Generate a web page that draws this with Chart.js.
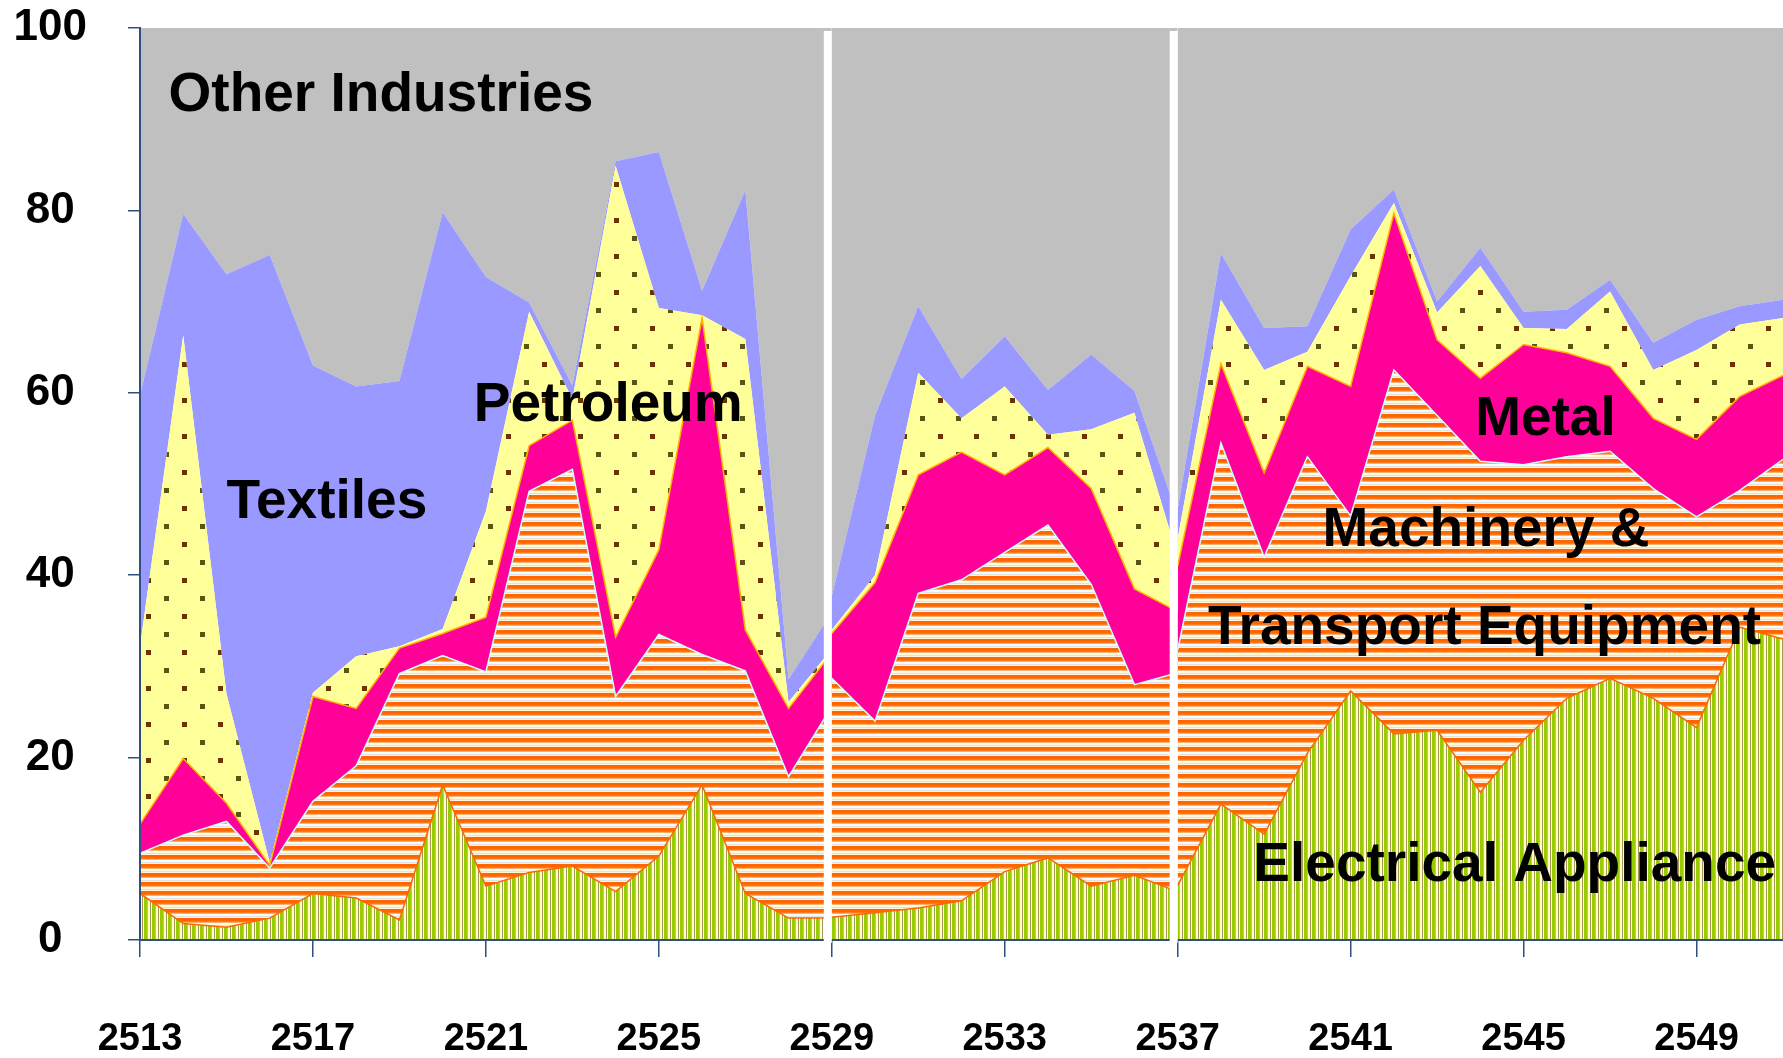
<!DOCTYPE html>
<html>
<head>
<meta charset="utf-8">
<script src="https://cdn.jsdelivr.net/npm/chart.js@4.4.1/dist/chart.umd.min.js"></script>
<style>
  html, body { margin: 0; padding: 0; background: #ffffff; }
  canvas { display: block; }
</style>
</head>
<body>
<canvas id="shareChart" width="1783" height="1058"></canvas>
<script>
// three separately compiled series, joined at 2529 and 2537
const seg1Years = [2513, 2514, 2515, 2516, 2517, 2518, 2519, 2520, 2521, 2522, 2523, 2524, 2525, 2526, 2527, 2528, 2529];
const seg2Years = [2529, 2530, 2531, 2532, 2533, 2534, 2535, 2536, 2537];
const seg3Years = [2537, 2538, 2539, 2540, 2541, 2542, 2543, 2544, 2545, 2546, 2547, 2548, 2549, 2550, 2551];

const tickYears = [2513, 2517, 2521, 2525, 2529, 2533, 2537, 2541, 2545, 2549];
const breakYears = [2529, 2537];

// share of manufacturing (%), bottom to top
const elec1 = [5.1, 1.8, 1.4, 2.4, 5.1, 4.6, 2.2, 17.0, 5.9, 7.4, 8.1, 5.3, 9.2, 17.0, 5.1, 2.4, 2.4];
const mach1 = [4.4, 9.7, 11.6, 5.5, 10.1, 14.5, 27.0, 14.2, 23.5, 41.8, 43.5, 21.4, 24.3, 14.3, 24.4, 15.5, 23.2];
const metal1 = [3.2, 8.4, 2.0, 0.3, 11.5, 6.3, 2.8, 2.4, 6.0, 5.0, 5.4, 6.5, 9.3, 36.9, 4.5, 7.5, 5.9];
const petro1 = [19.5, 46.4, 12.0, 0.3, 0.4, 5.7, 0.2, 0.5, 11.6, 14.7, 2.3, 51.7, 26.5, 0.3, 31.9, 0.7, 0.4];
const textile1 = [27.5, 13.3, 46.0, 66.6, 35.9, 29.6, 29.1, 45.7, 25.7, 1.0, 1.5, 0.5, 17.1, 2.7, 16.3, 2.5, 4.0];
const other1 = [40.3, 20.4, 27.0, 24.9, 37.0, 39.3, 38.7, 20.2, 27.3, 30.1, 39.2, 14.6, 13.6, 28.8, 17.8, 71.4, 64.1];

const elec2 = [2.5, 3.0, 3.5, 4.3, 7.5, 9.0, 5.9, 7.1, 5.3];
const mach2 = [26.2, 21.0, 34.5, 35.2, 35.0, 36.5, 33.1, 20.9, 24.0];
const metal2 = [4.9, 15.2, 13.0, 14.0, 8.5, 8.5, 10.5, 10.5, 6.7];
const petro2 = [0.4, 0.8, 11.2, 3.7, 9.7, 1.4, 6.5, 19.3, 6.0];
const textile2 = [3.7, 17.5, 7.3, 4.3, 5.5, 4.9, 8.2, 2.4, 4.5];
const other2 = [62.3, 42.5, 30.5, 38.5, 33.8, 39.7, 35.8, 39.8, 53.5];

const elec3 = [6.0, 14.9, 11.6, 20.5, 27.3, 22.6, 23.0, 16.2, 21.9, 26.5, 28.7, 26.5, 23.3, 34.3, 33.0];
const mach3 = [25.8, 39.6, 30.4, 32.5, 19.2, 39.9, 34.5, 36.3, 30.2, 26.5, 24.9, 23.0, 23.1, 15.0, 19.7];
const metal3 = [9.2, 8.7, 9.2, 9.9, 14.2, 17.2, 8.3, 9.1, 13.2, 11.4, 9.3, 7.7, 8.5, 10.3, 9.2];
const petro3 = [3.0, 7.0, 11.3, 1.6, 12.1, 1.1, 3.0, 12.3, 1.8, 2.6, 8.2, 5.3, 9.8, 7.9, 6.3];
const textile3 = [3.2, 5.1, 4.6, 2.8, 5.1, 1.5, 1.2, 2.0, 1.8, 2.1, 1.3, 3.0, 3.3, 2.0, 2.0];
const other3 = [52.8, 24.7, 32.9, 32.7, 22.1, 17.7, 30.0, 24.1, 31.1, 30.9, 27.6, 34.5, 32.0, 30.5, 29.8];

const FONT = "'Liberation Sans', Arial, sans-serif";

function makePattern(w, h, paint) {
  const c = document.createElement("canvas");
  c.width = w;
  c.height = h;
  paint(c.getContext("2d"));
  return c.getContext("2d").createPattern(c, "repeat");
}

// horizontal orange stripes
const machFill = makePattern(4, 9, function (g) {
  const rows = ["#FF6600", "#FF6600", "#FF6600", "#FF7A1A", "#FFB070", "#FFFFFF", "#FFFBE0", "#DDE3E6", "#FFF3E0"];
  rows.forEach(function (col, i) { g.fillStyle = col; g.fillRect(0, i, 4, 1); });
});

// vertical green stripes
const elecFill = makePattern(8, 4, function (g) {
  const cols = ["#99CC00", "#99CC00", "#99CC00", "#B8D838", "#FFFFCC", "#FFFFCC", "#A8955A", "#FFFFDD"];
  cols.forEach(function (col, i) { g.fillStyle = col; g.fillRect(i, 0, 1, 4); });
});

// pale yellow with brown dots
const petroFill = makePattern(36, 36, function (g) {
  g.fillStyle = "#FFFF99";
  g.fillRect(0, 0, 36, 36);
  g.fillStyle = "#6B3300";
  g.fillRect(2, 2, 5, 5);
  g.fillStyle = "#5A5510";
  g.fillRect(20, 20, 5, 5);
});

const series = [
  { name: "Electrical Appliance", parts: [elec1, elec2, elec3], bg: elecFill, line: "#FF6600", width: 1.5 },
  { name: "Machinery & Transport Equipment", parts: [mach1, mach2, mach3], bg: machFill, line: "#CCFFFF", width: 1.5 },
  { name: "Metal", parts: [metal1, metal2, metal3], bg: "#FF0099", line: "#FFB300", width: 1.5 },
  { name: "Petroleum", parts: [petro1, petro2, petro3], bg: petroFill, line: "#FFFF99", width: 0 },
  { name: "Textiles", parts: [textile1, textile2, textile3], bg: "#9999FF", line: "#9999FF", width: 0 },
  { name: "Other Industries", parts: [other1, other2, other3], bg: "#C0C0C0", line: "#C0C0C0", width: 0 },
];
const segments = [seg1Years, seg2Years, seg3Years];

const datasets = [];
segments.forEach(function (years, s) {
  series.forEach(function (ser) {
    datasets.push({
      label: ser.name,
      data: years.map(function (yr, i) { return { x: yr, y: ser.parts[s][i] }; }),
      stack: "seg" + s,
      fill: "stack",
      backgroundColor: ser.bg,
      borderColor: ser.line,
      borderWidth: ser.width,
      pointRadius: 0,
      tension: 0,
    });
  });
});

// text inside the areas, anchored in data units (year, %)
const areaLabels = [
  { text: "Other Industries", x: 2513.66, y: 90.9 },
  { text: "Textiles", x: 2515.0, y: 46.3 },
  { text: "Petroleum", x: 2520.72, y: 56.9 },
  { text: "Metal", x: 2543.88, y: 55.4 },
  { text: "Machinery &", x: 2540.35, y: 43.2 },
  { text: "Transport Equipment", x: 2537.7, y: 32.5 },
  { text: "Electrical Appliance", x: 2538.75, y: 6.45 },
];

const overlay = {
  id: "overlay",
  afterDraw: function (chart) {
    const ctx = chart.ctx;
    const area = chart.chartArea;
    const xs = chart.scales.x;
    const ys = chart.scales.y;
    ctx.save();
    // white gaps where the series breaks
    ctx.fillStyle = "#FFFFFF";
    breakYears.forEach(function (yr) {
      const px = xs.getPixelForValue(yr);
      ctx.fillRect(px - 8, area.top + 3, 8, area.bottom - area.top);
    });
    ctx.fillStyle = "#000000";
    ctx.font = "bold 55px " + FONT;
    ctx.textBaseline = "alphabetic";
    ctx.textAlign = "left";
    areaLabels.forEach(function (l) {
      ctx.fillText(l.text, xs.getPixelForValue(l.x), ys.getPixelForValue(l.y));
    });
    ctx.restore();
  },
};

const axisBlue = "#2F4F7F";

new Chart(document.getElementById("shareChart"), {
  type: "line",
  data: { datasets: datasets },
  plugins: [overlay],
  options: {
    responsive: false,
    animation: false,
    devicePixelRatio: 1,
    layout: { padding: { top: 28, left: 0, right: 0, bottom: 0 } },
    plugins: { legend: { display: false }, tooltip: { enabled: false } },
    scales: {
      x: {
        type: "linear",
        min: 2513,
        max: 2551,
        afterBuildTicks: function (axis) {
          axis.ticks = tickYears.map(function (v) { return { value: v }; });
        },
        afterFit: function (axis) {
          axis.height = 118;
          axis.paddingLeft = 0;
          axis.paddingRight = 0;
        },
        ticks: {
          autoSkip: false,
          maxRotation: 0,
          padding: 60,
          color: "#000000",
          font: { family: FONT, size: 38, weight: "bold" },
          callback: function (value) { return String(value); },
        },
        grid: { drawOnChartArea: false, drawTicks: true, tickLength: 17, color: axisBlue, lineWidth: 1.5 },
        border: { display: true, color: axisBlue, width: 2, z: 1 },
      },
      y: {
        stacked: true,
        min: 0,
        max: 100,
        afterFit: function (axis) {
          axis.width = 140;
          axis.paddingTop = 0;
          axis.paddingBottom = 0;
        },
        ticks: {
          stepSize: 20,
          crossAlign: "center",
          padding: 41,
          color: "#000000",
          font: { family: FONT, size: 44, weight: "bold" },
        },
        grid: { drawOnChartArea: false, drawTicks: true, tickLength: 12, color: axisBlue, lineWidth: 1.5 },
        border: { display: true, color: axisBlue, width: 2, z: 1 },
      },
    },
  },
});
</script>
</body>
</html>
